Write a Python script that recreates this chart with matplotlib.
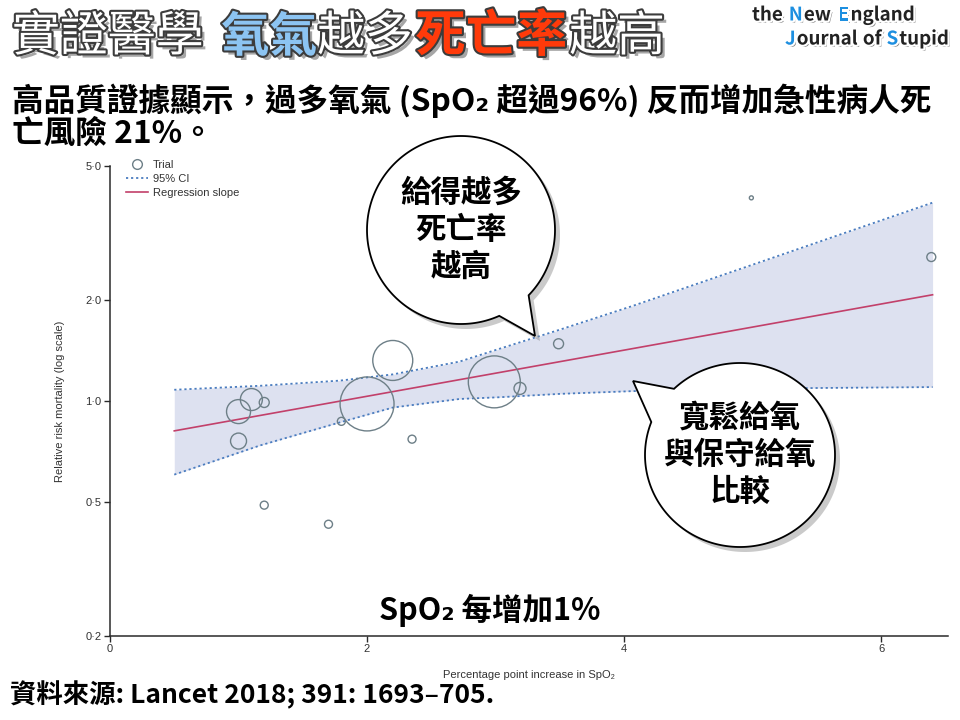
import matplotlib
matplotlib.use("Agg")
import matplotlib.pyplot as plt
import matplotlib.patheffects as pe
from matplotlib.patches import Polygon
from matplotlib.lines import Line2D
from matplotlib.ticker import FixedLocator, FixedFormatter, NullLocator
import numpy as np

plt.rcParams['font.family'] = ['Noto Sans CJK TC', 'DejaVu Sans']

# ---------- data ----------
trial_x = [1.00, 1.10, 1.20, 1.00, 1.20, 1.70, 1.80, 2.00, 2.20, 2.35, 2.99, 3.19, 3.49, 4.99, 6.39]
trial_rr = [0.93, 1.01, 0.99, 0.76, 0.49, 0.43, 0.87, 0.98, 1.32, 0.77, 1.14, 1.09, 1.48, 4.02, 2.68]
trial_weight = [14.4, 12.1, 2.5, 6.4, 1.6, 1.6, 1.6, 72.9, 40.0, 1.6, 67.6, 3.6, 2.5, 0.4, 2.0]

reg_x = [0.5, 6.4]
reg_rr = [0.815, 2.07]

ci_x = [0.5, 1.17, 1.79, 2.2, 2.72, 3.03, 3.5, 4.07, 5.11, 6.4]
ci_upper = [1.08, 1.11, 1.15, 1.20, 1.31, 1.43, 1.63, 1.92, 2.63, 3.89]
ci_lower = [0.604, 0.738, 0.864, 0.956, 1.014, 1.026, 1.05, 1.07, 1.09, 1.10]

y_ticks = [0.2, 0.5, 1.0, 2.0, 5.0]
y_tick_labels = ["0·2", "0·5", "1·0", "2·0", "5·0"]
x_ticks = [0, 2, 4, 6]
x_tick_labels = ["0", "2", "4", "6"]

W, H = 960, 720
LANCET = ['Liberation Sans Narrow', 'Liberation Sans', 'DejaVu Sans']

fig = plt.figure(figsize=(W / 100, H / 100), dpi=100)
fig.patch.set_facecolor("white")

# ---------- the chart ----------
ax = fig.add_axes([110 / W, 1 - 636 / H, (948 - 110) / W, (636 - 166) / H])
ax.set_yscale("log")
ax.fill_between(ci_x, ci_lower, ci_upper, color="#dde1f0", lw=0, zorder=1)
ax.plot(ci_x, ci_upper, color="#4a7cbf", lw=1.3, ls=(0, (1.2, 1.6)), zorder=2)
ax.plot(ci_x, ci_lower, color="#4a7cbf", lw=1.3, ls=(0, (1.2, 1.6)), zorder=2)
ax.plot(reg_x, reg_rr, color="#c2406a", lw=1.2, zorder=3)
ax.scatter(trial_x, trial_rr, s=[w * 20.7 for w in trial_weight], facecolors="none",
           edgecolors="#6d7f87", linewidths=1.0, zorder=4)

ax.set_xlim(0, 6.52)
ax.set_ylim(0.2, 5)
ax.yaxis.set_major_locator(FixedLocator(y_ticks))
ax.yaxis.set_major_formatter(FixedFormatter(y_tick_labels))
ax.yaxis.set_minor_locator(NullLocator())
ax.xaxis.set_major_locator(FixedLocator(x_ticks))
ax.xaxis.set_major_formatter(FixedFormatter(x_tick_labels))
for s in ["top", "right"]:
    ax.spines[s].set_visible(False)
for s in ["left", "bottom"]:
    ax.spines[s].set_color("#2a2a2a")
    ax.spines[s].set_linewidth(1.1)
ax.tick_params(length=4, width=1, color="#2a2a2a", labelsize=8, labelcolor="#333333", pad=2)
for lab in ax.get_xticklabels() + ax.get_yticklabels():
    lab.set_family(LANCET)

ax.set_ylabel("Relative risk mortality (log scale)", fontsize=8, color="#333333", family=LANCET)
ax.yaxis.set_label_coords(-0.054, 0.5)
ax.set_xlabel("Percentage point increase in SpO₂", fontsize=8, color="#333333", family=LANCET)
ax.xaxis.set_label_coords(0.5, -0.072)

handles = [
    Line2D([], [], marker="o", ls="none", mfc="none", mec="#6d7f87", ms=7, mew=1.0),
    Line2D([], [], color="#4a7cbf", lw=1.3, ls=(0, (1.2, 1.6))),
    Line2D([], [], color="#c2406a", lw=1.2),
]
leg = ax.legend(handles, ["Trial", "95% CI", "Regression slope"], loc="upper left",
                bbox_to_anchor=(0.019, 1.012), frameon=False, fontsize=8,
                handlelength=2.0, labelspacing=0.35, borderaxespad=0, handletextpad=0.4,
                borderpad=0)
for t in leg.get_texts():
    t.set_family(LANCET)
    t.set_color("#333333")


# ---------- speech bubbles (pixel coords, y down) ----------
def bubble(cx, cy, a, b, ta, tb, tip, lines):
    ang = np.radians(np.linspace(tb, ta + 360, 240))
    pts = [tip] + [(cx + a * np.cos(t), cy + b * np.sin(t)) for t in ang]
    shadow = [((x + 5) / W, 1 - (y + 5) / H) for x, y in pts]
    main = [(x / W, 1 - y / H) for x, y in pts]
    fig.patches.append(Polygon(shadow, closed=True, transform=fig.transFigure,
                               facecolor="#8a8a8a", edgecolor="none", alpha=0.45, zorder=5))
    fig.patches.append(Polygon(main, closed=True, transform=fig.transFigure,
                               facecolor="white", edgecolor="black", lw=1.3, zorder=6))
    fig.text(cx / W, 1 - cy / H, lines, ha="center", va="center", fontsize=22,
             fontweight="bold", linespacing=1.2, zorder=7)


bubble(461, 230, 94, 94, 44, 66, (535, 336), "給得越多\n死亡率\n越高")
bubble(740, 455, 95, 92, 201, 226, (633, 381), "寬鬆給氧\n與保守給氧\n比較")

# ---------- header texts ----------
renderer = fig.canvas.get_renderer()


def draw_runs(x, y, runs, effects):
    for txt, color, weight, size, gap in runs:
        t = fig.text(x / W, 1 - y / H, txt, color=color, fontweight=weight, fontsize=size,
                     ha="left", va="center", path_effects=effects, zorder=8)
        x += t.get_window_extent(renderer=renderer).width + gap


title_fx = [pe.SimplePatchShadow(offset=(3, -3), shadow_rgbFace="black", alpha=0.35),
            pe.Stroke(linewidth=3, foreground="#3c3c3c"), pe.Normal()]
draw_runs(12, 37, [
    ("實證醫學", "white", "normal", 34.5, 18),
    ("氧氣", "#8cc4f2", "bold", 34.5, 0),
    ("越多", "white", "normal", 34.5, 2),
    ("死亡率", "#ff3a0a", "bold", 36.5, 2),
    ("越高", "white", "normal", 34.5, 0),
], title_fx)

logo_fx = [pe.SimplePatchShadow(offset=(1.5, -1.5), shadow_rgbFace="black", alpha=0.5),
           pe.Stroke(linewidth=3, foreground="white"), pe.Normal()]
draw_runs(752, 15, [
    ("the", "#222222", "heavy", 13.5, 6),
    ("N", "#1d8fe0", "heavy", 13.5, 1),
    ("ew", "#222222", "heavy", 13.5, 7),
    ("E", "#1d8fe0", "heavy", 13.5, 1),
    ("ngland", "#222222", "heavy", 13.5, 0),
], logo_fx)
draw_runs(785, 39, [
    ("J", "#1d8fe0", "heavy", 13.5, 1),
    ("ournal", "#222222", "heavy", 13.5, 5),
    ("of", "#222222", "heavy", 13.5, 5),
    ("S", "#1d8fe0", "heavy", 13.5, 1),
    ("tupid", "#222222", "heavy", 13.5, 0),
], logo_fx)

fig.text(12 / W, 1 - 101 / H, "高品質證據顯示，過多氧氣 (SpO₂ 超過96%) 反而增加急性病人死",
         fontsize=22.8, fontweight="bold", ha="left", va="center")
fig.text(12 / W, 1 - 134 / H, "亡風險 21%。", fontsize=22.8, fontweight="bold", ha="left", va="center")

fig.text(490 / W, 1 - 610 / H, "SpO₂ 每增加1%", fontsize=22, fontweight="bold",
         ha="center", va="center", zorder=8)
fig.text(10 / W, 1 - 695 / H, "資料來源: Lancet 2018; 391: 1693–705.", fontsize=19,
         fontweight="bold", ha="left", va="center")

fig.savefig("out.png", dpi=100)
